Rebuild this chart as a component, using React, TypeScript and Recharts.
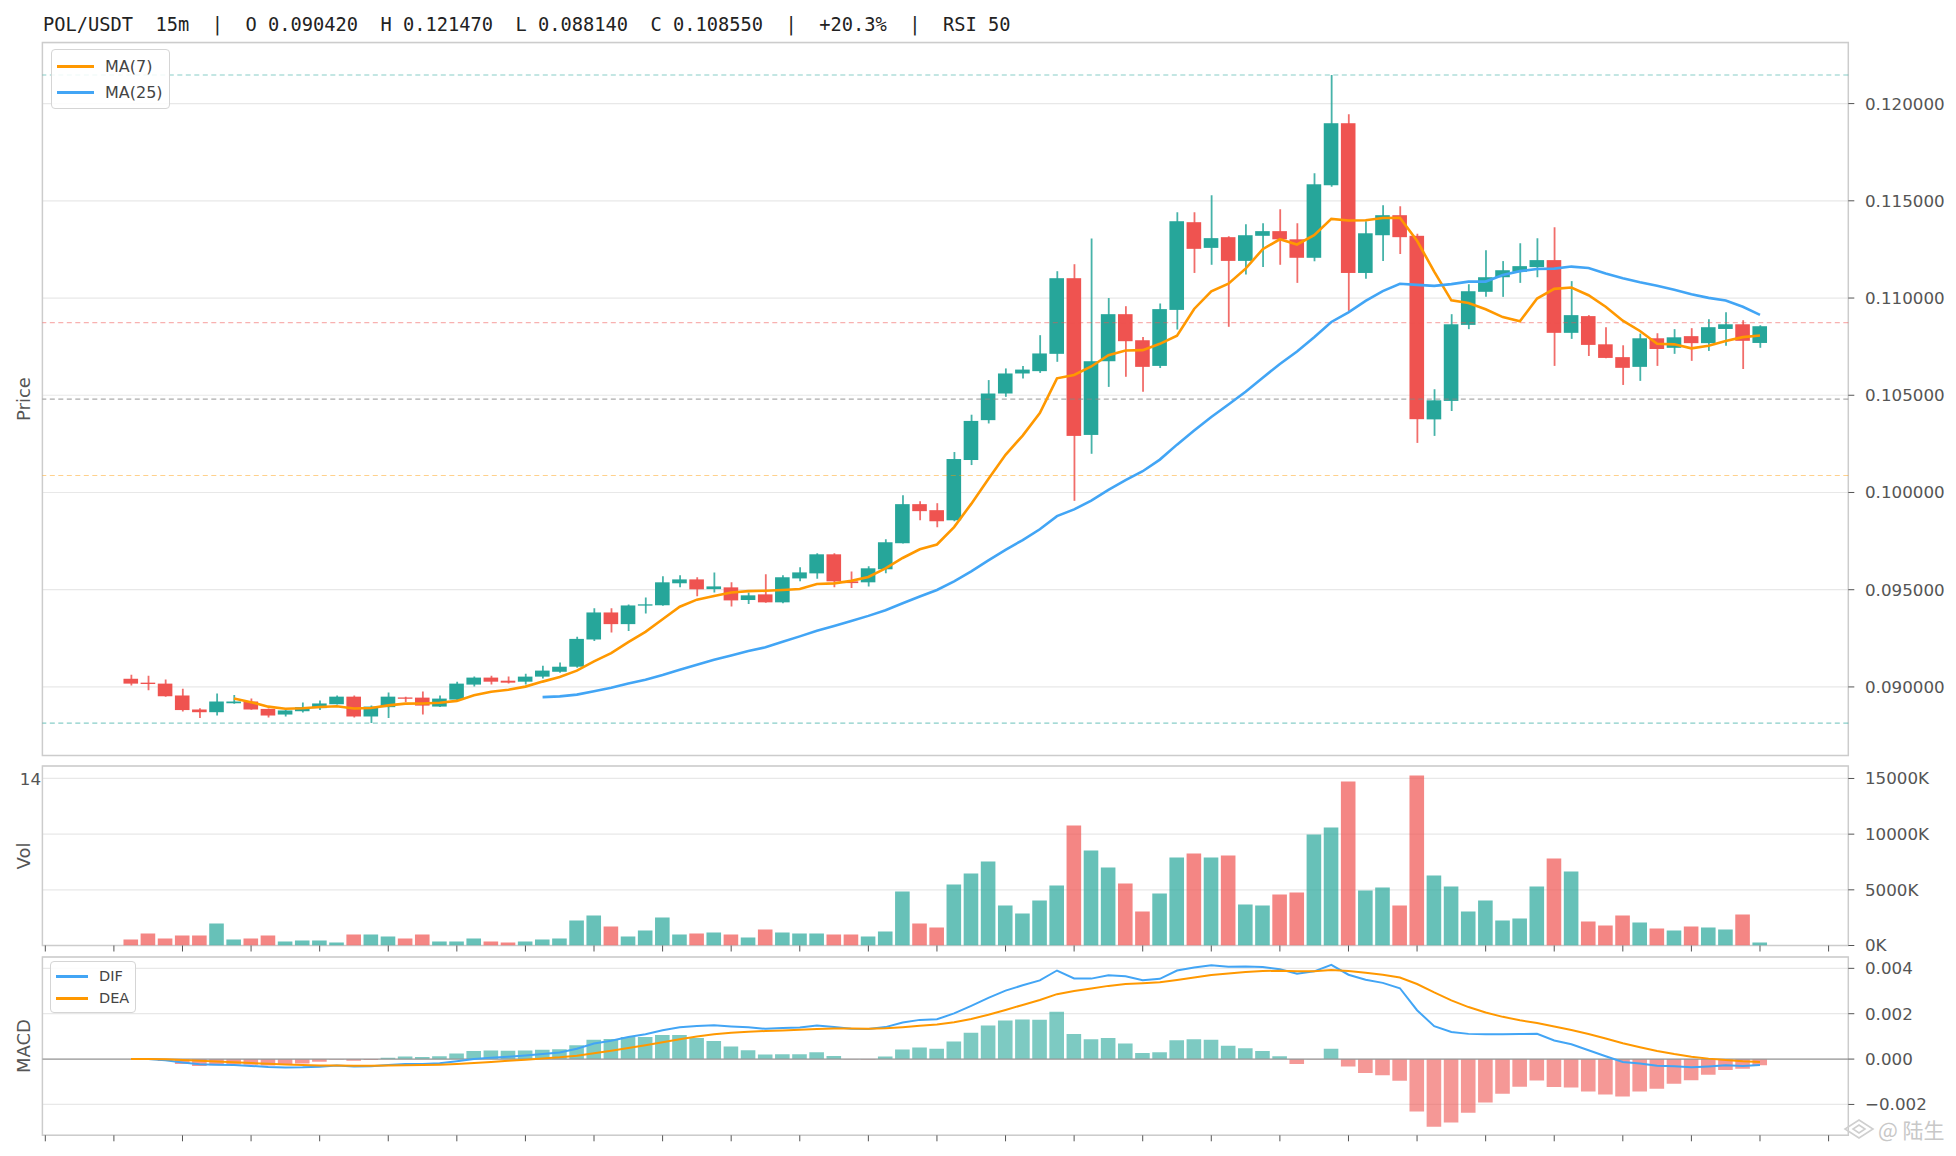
import React from 'react'
import {
  ComposedChart,
  Bar,
  Line,
  XAxis,
  YAxis,
  CartesianGrid,
  ReferenceLine,
  ReferenceArea,
  Cell,
} from 'recharts'

// POL/USDT 15m candles, oldest first
const opens = [
  0.09042, 0.09022, 0.09017, 0.08956, 0.08884, 0.0887, 0.08916, 0.08925, 0.08887, 0.08858,
  0.08875, 0.08891, 0.08911, 0.0895, 0.08848, 0.08896, 0.08945, 0.08945, 0.08899, 0.08935,
  0.09012, 0.09048, 0.09032, 0.09027, 0.09053, 0.09078, 0.09104, 0.09244, 0.09383, 0.09323,
  0.09419, 0.0942, 0.09533, 0.09553, 0.09503, 0.09512, 0.09447, 0.09476, 0.09435, 0.09558,
  0.09584, 0.09682, 0.09543, 0.09538, 0.09605, 0.09739, 0.0994, 0.09909, 0.09857, 0.10167,
  0.10372, 0.10509, 0.10612, 0.10624, 0.10713, 0.11102, 0.10296, 0.10675, 0.10917, 0.10783,
  0.10651, 0.10939, 0.1139, 0.11258, 0.11313, 0.11191, 0.1132, 0.11344, 0.11302, 0.11207,
  0.1158, 0.11899, 0.11129, 0.11323, 0.11426, 0.1132, 0.10376, 0.10471, 0.10862, 0.11032,
  0.11107, 0.11135, 0.11159, 0.11195, 0.10821, 0.10907, 0.10762, 0.10696, 0.10646, 0.10793,
  0.10744, 0.10804, 0.10768, 0.10841, 0.10865, 0.10769,
]
const highs = [
  0.09063, 0.09058, 0.09038, 0.08991, 0.0889, 0.08966, 0.08959, 0.0894, 0.08889, 0.08886,
  0.0892, 0.0893, 0.08956, 0.08956, 0.08904, 0.08971, 0.0895, 0.08976, 0.08956, 0.09027,
  0.09053, 0.09058, 0.09053, 0.09068, 0.09109, 0.09125, 0.09258, 0.09404, 0.09404, 0.09424,
  0.0946, 0.09569, 0.09574, 0.09564, 0.09589, 0.09538, 0.09486, 0.09579, 0.09574, 0.09615,
  0.09687, 0.09687, 0.09594, 0.0962, 0.09759, 0.09986, 0.09955, 0.09945, 0.10208, 0.104,
  0.10578, 0.10638, 0.1065, 0.10809, 0.11138, 0.11174, 0.11306, 0.11, 0.10958, 0.108,
  0.10972, 0.11441, 0.11441, 0.11529, 0.11318, 0.1138, 0.11385, 0.11457, 0.11385, 0.11642,
  0.12147, 0.11945, 0.11395, 0.11477, 0.11472, 0.1133, 0.10531, 0.10917, 0.11071, 0.11246,
  0.1119, 0.11282, 0.11308, 0.11364, 0.11087, 0.10912, 0.1085, 0.10757, 0.10817, 0.10819,
  0.1084, 0.10845, 0.10891, 0.10927, 0.10886, 0.1086,
]
const lows = [
  0.09007, 0.08983, 0.0895, 0.08874, 0.0884, 0.08853, 0.08914, 0.08882, 0.08843, 0.08848,
  0.08869, 0.08881, 0.08909, 0.08843, 0.08814, 0.0884, 0.08922, 0.08858, 0.08897, 0.08933,
  0.09002, 0.09012, 0.09017, 0.09012, 0.09043, 0.09073, 0.09099, 0.09236, 0.0928, 0.09287,
  0.09378, 0.09418, 0.09512, 0.09466, 0.09486, 0.09414, 0.09426, 0.09433, 0.0943, 0.09543,
  0.09556, 0.09512, 0.09509, 0.09517, 0.09584, 0.09737, 0.09857, 0.09821, 0.09852, 0.10141,
  0.10355, 0.10492, 0.10586, 0.10615, 0.10672, 0.09957, 0.10199, 0.10543, 0.10595, 0.10518,
  0.1064, 0.10838, 0.11129, 0.11171, 0.10852, 0.11121, 0.1116, 0.11171, 0.11078, 0.11189,
  0.11572, 0.10934, 0.11099, 0.11191, 0.11227, 0.10255, 0.10291, 0.10419, 0.1084, 0.11006,
  0.11006, 0.11078, 0.11107, 0.10651, 0.1079, 0.10702, 0.1069, 0.10553, 0.10574, 0.10651,
  0.10713, 0.10677, 0.10728, 0.10754, 0.10635, 0.10744,
]
const closes = [
  0.09017, 0.09015, 0.08952, 0.08881, 0.0887, 0.08925, 0.08925, 0.08884, 0.08853, 0.08879,
  0.08896, 0.08915, 0.0895, 0.08848, 0.08899, 0.0895, 0.0894, 0.08904, 0.0894, 0.09017,
  0.09048, 0.09027, 0.09022, 0.09053, 0.09084, 0.09104, 0.09247, 0.09383, 0.09323, 0.09419,
  0.09424, 0.09538, 0.09553, 0.09502, 0.09517, 0.09445, 0.09471, 0.09435, 0.09564, 0.09589,
  0.09682, 0.09543, 0.09534, 0.0961, 0.09744, 0.0994, 0.09904, 0.09852, 0.10172, 0.10368,
  0.10509, 0.10612, 0.10632, 0.10715, 0.11102, 0.10291, 0.10675, 0.10917, 0.10778, 0.10646,
  0.10943, 0.11395, 0.11253, 0.11308, 0.11191, 0.11323, 0.11344, 0.11302, 0.11207, 0.11585,
  0.11899, 0.11129, 0.11333, 0.11426, 0.11313, 0.10377, 0.10474, 0.10865, 0.11035, 0.11107,
  0.11143, 0.11164, 0.11195, 0.10821, 0.10912, 0.10759, 0.10692, 0.10641, 0.10793, 0.10738,
  0.10798, 0.10768, 0.1085, 0.10865, 0.1078, 0.10855,
]
// volume in thousands
const volumesK = [
  539, 1078, 629, 898, 898, 1976, 539, 629, 898, 359,
  449, 449, 269, 988, 988, 808, 629, 988, 359, 359,
  629, 359, 269, 359, 539, 629, 2246, 2695, 1707, 808,
  1347, 2515, 988, 1078, 1168, 988, 719, 1437, 1168, 1078,
  1078, 988, 988, 808, 1257, 4850, 1976, 1617, 5479, 6467,
  7545, 3593, 2874, 4042, 5389, 10778, 8533, 7006, 5569, 3054,
  4671, 7904, 8263, 7904, 8084, 3683, 3593, 4581, 4760, 9970,
  10599, 14730, 4940, 5210, 3593, 15269, 6287, 5299, 3054, 4042,
  2246, 2425, 5299, 7814, 6647, 2156, 1796, 2695, 2066, 1527,
  1347, 1707, 1617, 1437, 2784, 269,
]

const PRICE_TICKS = [0.09, 0.095, 0.1, 0.105, 0.11, 0.115, 0.12]
const VOL_TICKS = [0, 5000, 10000, 15000]
const MACD_TICKS = [-0.002, 0, 0.002, 0.004]
// one tick per hour (every 4 candles)
const X_TICKS = [-5, -1, 3, 7, 11, 15, 19, 23, 27, 31, 35, 39, 43, 47, 51, 55, 59, 63, 67, 71, 75, 79, 83, 87, 91, 95, 99]

const GREEN = '#26a69a'
const RED = '#ef5350'
const ORANGE = '#ff9800'
const BLUE = '#42a5f5'
const TICK = { fill: '#555', fontSize: 16.7, fontFamily: 'DejaVu Sans' }

const W = 1956
const X_DOMAIN: [number, number] = [-5.17, 100.15]
const BODY_W = 14.6
const AXIS_W = 107.7

function movingAverage(values: number[], n: number) {
  return values.map((_, i) =>
    i < n - 1 ? null : values.slice(i - n + 1, i + 1).reduce((a, b) => a + b, 0) / n
  )
}

function ema(values: number[], n: number) {
  const k = 2 / (n + 1)
  const out: number[] = []
  values.forEach((v, i) => out.push(i === 0 ? v : v * k + out[i - 1] * (1 - k)))
  return out
}

const ma7 = movingAverage(closes, 7)
const ma25 = movingAverage(closes, 25)
const ema12 = ema(closes, 12)
const ema26 = ema(closes, 26)
const dif = ema12.map((v, i) => v - ema26[i])
const dea = ema(dif, 9)

const rows = closes.map((c, i) => ({
  x: i,
  wick: [lows[i], highs[i]],
  body: [Math.min(opens[i], c), Math.max(opens[i], c)],
  up: c >= opens[i],
  ma7: ma7[i],
  ma25: ma25[i],
  vol: volumesK[i],
  dif: dif[i],
  dea: dea[i],
  hist: 2 * (dif[i] - dea[i]),
}))

const hi = Math.max(...highs)
const lo = Math.min(...lows)
const pad = (hi - lo) * 0.05
const PRICE_DOMAIN: [number, number] = [lo - pad, hi + pad]
const VOL_DOMAIN: [number, number] = [0, 16120]
const MACD_DOMAIN: [number, number] = [-0.00336, 0.0045]

const levels = [
  { v: hi, color: GREEN, op: 0.55 },
  { v: lo + (hi - lo) * 0.618, color: RED, op: 0.45 },
  { v: lo + (hi - lo) * 0.5, color: '#888', op: 0.7 },
  { v: lo + (hi - lo) * 0.382, color: ORANGE, op: 0.45 },
  { v: lo, color: GREEN, op: 0.55 },
]

const BodyShape = (props: any) => {
  const { x, y, width, height, payload } = props
  const h = Math.max(height || 0, 1.3)
  return (
    <rect
      x={x}
      y={y - (h - (height || 0)) / 2}
      width={width}
      height={h}
      fill={payload.up ? GREEN : RED}
    />
  )
}

function LegendBox(props: {
  left: number
  top: number
  items: { label: string; color: string }[]
  fontSize: number
  lineW: number
  rowH: number
}) {
  const { left, top, items, fontSize, lineW, rowH } = props
  return (
    <div
      style={{
        position: 'absolute',
        left,
        top,
        border: '1.5px solid #d5d5d5',
        borderRadius: 4,
        background: 'rgba(255,255,255,0.85)',
        padding: '3px 6px 3px 5px',
        fontFamily: 'DejaVu Sans',
        fontSize,
        color: '#444',
      }}
    >
      {items.map((it) => (
        <div key={it.label} style={{ display: 'flex', alignItems: 'center', height: rowH }}>
          <span style={{ width: lineW, height: 3, background: it.color, marginRight: 11 }} />
          <span>{it.label}</span>
        </div>
      ))}
    </div>
  )
}

function SideLabel({ text, y }: { text: string; y: number }) {
  return (
    <div
      style={{
        position: 'absolute',
        left: 22.5,
        top: y,
        transform: 'translate(-50%, -50%) rotate(-90deg)',
        fontFamily: 'DejaVu Sans',
        fontSize: 18,
        color: '#555',
        whiteSpace: 'nowrap',
      }}
    >
      {text}
    </div>
  )
}

function Frame({ yId, domain }: { yId: string; domain: [number, number] }) {
  return (
    <ReferenceArea
      xAxisId="x"
      yAxisId={yId}
      x1={X_DOMAIN[0]}
      x2={X_DOMAIN[1]}
      y1={domain[0]}
      y2={domain[1]}
      fill="none"
      stroke="#cccccc"
      strokeWidth={1.5}
      ifOverflow="visible"
    />
  )
}

function BottomAxis(height: number) {
  return (
    <XAxis
      xAxisId="x"
      dataKey="x"
      type="number"
      domain={X_DOMAIN}
      ticks={X_TICKS}
      allowDataOverflow
      tickFormatter={() => ''}
      axisLine={false}
      tickLine={{ stroke: '#555' }}
      tickSize={6}
      height={height}
    />
  )
}

function RightAxis(id: string, domain: [number, number], ticks: number[], fmt: (v: number) => string) {
  return (
    <YAxis
      yAxisId={id}
      orientation="right"
      type="number"
      domain={domain}
      ticks={ticks}
      allowDataOverflow
      width={AXIS_W}
      axisLine={false}
      tickLine={{ stroke: '#555' }}
      tickSize={6}
      tickMargin={10.7}
      tick={TICK}
      tickFormatter={fmt}
    />
  )
}

export default function App() {
  return (
    <div
      style={{
        position: 'absolute',
        left: 0,
        top: 0,
        width: W,
        height: 1156,
        overflow: 'hidden',
        background: '#fff',
      }}
    >
      <div
        style={{
          position: 'absolute',
          left: 43,
          top: 13,
          lineHeight: '24px',
          fontFamily: 'DejaVu Sans Mono',
          fontSize: 18.7,
          color: '#222',
          whiteSpace: 'pre',
        }}
      >
        {'POL/USDT  15m  |  O 0.090420  H 0.121470  L 0.088140  C 0.108550  |  +20.3%  |  RSI 50'}
      </div>

      {/* price panel */}
      <div style={{ position: 'absolute', left: 0, top: 0 }}>
        <ComposedChart width={W} height={780} data={rows} margin={{ top: 42.6, right: 0, bottom: 0, left: 42.4 }}>
          <CartesianGrid xAxisId="x" yAxisId="p" vertical={false} stroke="#e8e8e8" strokeWidth={1.2} />
          {BottomAxis(24.5)}
          <XAxis xAxisId="w" dataKey="x" type="number" domain={X_DOMAIN} allowDataOverflow hide />
          {RightAxis('p', PRICE_DOMAIN, PRICE_TICKS, (v) => v.toFixed(6))}
          {levels.map((l, i) => (
            <ReferenceLine
              key={i}
              xAxisId="x"
              yAxisId="p"
              y={l.v}
              stroke={l.color}
              strokeOpacity={l.op}
              strokeWidth={1.2}
              strokeDasharray="5 3.5"
            />
          ))}
          {Frame({ yId: 'p', domain: PRICE_DOMAIN })}
          <Bar xAxisId="w" yAxisId="p" dataKey="wick" barSize={1.8} isAnimationActive={false}>
            {rows.map((r, i) => (
              <Cell key={i} fill={r.up ? GREEN : RED} fillOpacity={0.85} />
            ))}
          </Bar>
          <Bar
            xAxisId="x"
            yAxisId="p"
            dataKey="body"
            barSize={BODY_W}
            shape={BodyShape}
            isAnimationActive={false}
          />
          <Line
            xAxisId="x"
            yAxisId="p"
            dataKey="ma7"
            stroke={ORANGE}
            strokeWidth={2.6}
            dot={false}
            activeDot={false}
            isAnimationActive={false}
          />
          <Line
            xAxisId="x"
            yAxisId="p"
            dataKey="ma25"
            stroke={BLUE}
            strokeWidth={2.6}
            dot={false}
            activeDot={false}
            isAnimationActive={false}
          />
        </ComposedChart>
      </div>

      {/* volume panel */}
      <div style={{ position: 'absolute', left: 0, top: 756 }}>
        <ComposedChart width={W} height={214} data={rows} margin={{ top: 10, right: 0, bottom: 0, left: 42.4 }}>
          <CartesianGrid xAxisId="x" yAxisId="v" vertical={false} stroke="#e8e8e8" strokeWidth={1.2} />
          {BottomAxis(24.5)}
          {RightAxis('v', VOL_DOMAIN, VOL_TICKS, (v) => `${v}K`)}
          {Frame({ yId: 'v', domain: VOL_DOMAIN })}
          <Bar xAxisId="x" yAxisId="v" dataKey="vol" barSize={BODY_W} isAnimationActive={false}>
            {rows.map((r, i) => (
              <Cell key={i} fill={r.up ? GREEN : RED} fillOpacity={0.7} />
            ))}
          </Bar>
        </ComposedChart>
      </div>

      {/* MACD panel */}
      <div style={{ position: 'absolute', left: 0, top: 947 }}>
        <ComposedChart width={W} height={212} data={rows} margin={{ top: 10, right: 0, bottom: 0, left: 42.4 }}>
          <CartesianGrid xAxisId="x" yAxisId="m" vertical={false} stroke="#e8e8e8" strokeWidth={1.2} />
          {BottomAxis(23.7)}
          {RightAxis('m', MACD_DOMAIN, MACD_TICKS, (v) => v.toFixed(3).replace('-', '\u2212'))}
          {Frame({ yId: 'm', domain: MACD_DOMAIN })}
          <ReferenceLine xAxisId="x" yAxisId="m" y={0} stroke="#999" strokeWidth={1.3} />
          <Bar xAxisId="x" yAxisId="m" dataKey="hist" barSize={BODY_W} isAnimationActive={false}>
            {rows.map((r, i) => (
              <Cell key={i} fill={r.hist >= 0 ? GREEN : RED} fillOpacity={0.6} />
            ))}
          </Bar>
          <Line
            xAxisId="x"
            yAxisId="m"
            dataKey="dif"
            stroke={BLUE}
            strokeWidth={2}
            dot={false}
            activeDot={false}
            isAnimationActive={false}
          />
          <Line
            xAxisId="x"
            yAxisId="m"
            dataKey="dea"
            stroke={ORANGE}
            strokeWidth={2}
            dot={false}
            activeDot={false}
            isAnimationActive={false}
          />
        </ComposedChart>
      </div>

      <LegendBox
        left={51}
        top={49}
        fontSize={16}
        lineW={37}
        rowH={26}
        items={[
          { label: 'MA(7)', color: ORANGE },
          { label: 'MA(25)', color: BLUE },
        ]}
      />
      <LegendBox
        left={50}
        top={961}
        fontSize={14.5}
        lineW={32}
        rowH={22}
        items={[
          { label: 'DIF', color: BLUE },
          { label: 'DEA', color: ORANGE },
        ]}
      />

      <SideLabel text="Price" y={399} />
      <SideLabel text="Vol" y={856} />
      <SideLabel text="MACD" y={1046} />

      <div
        style={{
          position: 'absolute',
          right: W - 41,
          top: 767,
          lineHeight: '24px',
          fontFamily: 'DejaVu Sans',
          fontSize: 16.7,
          color: '#555',
        }}
      >
        14
      </div>

      <div
        style={{
          position: 'absolute',
          left: 1843,
          top: 1114,
          display: 'flex',
          alignItems: 'center',
          color: '#c8c8c8',
          fontFamily: 'Noto Sans CJK SC',
          fontSize: 21,
          whiteSpace: 'nowrap',
        }}
      >
        <svg width={32} height={22} viewBox="0 0 32 22">
          <path d="M16 2 L30 11 L16 20 L2 11 Z" fill="none" stroke="#cfcfcf" strokeWidth={1.6} />
          <path d="M16 7 L22 11 L16 15 L10 11 Z" fill="none" stroke="#cfcfcf" strokeWidth={1.6} />
        </svg>
        <span style={{ marginLeft: 3 }}>@ 陆生</span>
      </div>
    </div>
  )
}
